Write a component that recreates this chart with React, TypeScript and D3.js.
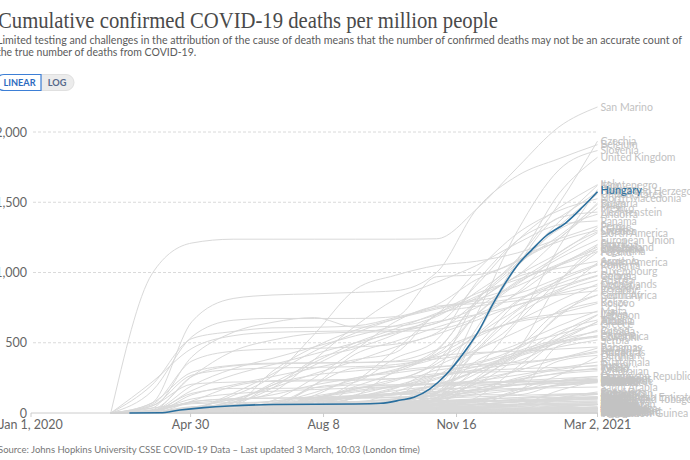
import React from "react";
import * as d3 from "d3";

const DATES = [
  "2020-03-01", "2020-04-01", "2020-05-01", "2020-06-01", "2020-07-01", "2020-08-01", "2020-09-01",
  "2020-10-01", "2020-11-01", "2020-12-01", "2021-01-01", "2021-02-01", "2021-03-02",
];

const COUNTRIES = [
  "San Marino", "Czechia", "Belgium", "Slovenia", "United Kingdom", "Montenegro", "Bosnia and Herzegovina",
  "North Macedonia", "Bulgaria", "Mexico", "Liechtenstein", "Andorra", "Panama", "Peru", "North America",
  "European Union", "Switzerland", "Spain", "Italy", "Portugal", "United States", "Sweden", "France",
  "Brazil", "South America", "Romania", "Luxembourg", "Croatia", "Armenia", "Austria", "Netherlands",
  "Ireland", "Lithuania", "Poland", "Slovakia", "Colombia", "Argentina", "Chile", "Moldova", "Georgia",
  "Bolivia", "Ecuador", "Belize", "Malta", "Lebanon", "Tunisia", "Greece", "Germany", "Russia",
  "Costa Rica", "Israel", "South Africa", "Iran", "Canada", "Ukraine", "Serbia", "Paraguay", "Bahamas",
  "Jordan", "Honduras", "Guatemala", "Iraq", "Turkey", "Oman", "World", "Dominican Republic",
  "Azerbaijan", "Kuwait", "Morocco", "Belarus", "Saudi Arabia", "Kazakhstan", "Estonia", "Denmark",
  "Finland", "Norway", "India", "Indonesia", "Philippines", "Egypt", "Asia", "Africa", "Pakistan",
  "Japan", "Algeria", "Cuba", "Australia", "South Korea", "Uzbekistan", "China", "Nigeria",
  "Latvia", "Albania", "Kosovo", "Cyprus", "Uruguay", "El Salvador", "Jamaica", "Trinidad and Tobago",
  "Qatar", "Bahrain", "United Arab Emirates", "Libya", "Cape Verde", "Eswatini", "Namibia", "Botswana",
  "Zimbabwe", "Zambia", "Kenya", "Ethiopia", "Ghana", "Senegal", "Cameroon", "Venezuela", "Haiti",
  "Nicaragua", "Guyana", "Suriname", "Syria", "Yemen", "Afghanistan", "Kyrgyzstan", "Sri Lanka",
  "Bangladesh", "Nepal", "Myanmar", "Malaysia", "Thailand", "Vietnam", "New Zealand", "Singapore",
  "Iceland", "Mongolia", "Uganda", "Mozambique", "Malawi", "Madagascar", "Somalia", "Sudan",
  "Mauritania", "Gabon", "Djibouti", "Tajikistan", "Rwanda", "Papua New Guinea",
];

const DEATHS = [
  [0, 990, 1210, 1237, 1237, 1237, 1237, 1237, 1240, 1450, 1750, 2036, 2178],
  [0, 3, 22, 30, 33, 36, 40, 58, 290, 800, 1100, 1490, 1935],
  [0, 72, 650, 815, 840, 848, 858, 870, 1000, 1450, 1690, 1810, 1910],
  [0, 7, 45, 52, 53, 56, 63, 77, 190, 700, 1300, 1730, 1868],
  [0, 35, 400, 574, 646, 679, 611, 618, 687, 861, 1091, 1561, 1820],
  [0, 3, 13, 14, 14, 90, 190, 290, 440, 800, 1070, 1360, 1620],
  [0, 2, 15, 50, 55, 180, 220, 390, 520, 930, 1230, 1390, 1575],
  [0, 4, 36, 70, 180, 380, 460, 560, 700, 1010, 1280, 1440, 1525],
  [0, 1, 7, 19, 26, 50, 118, 130, 210, 600, 1050, 1240, 1495],
  [0, 0, 13, 73, 215, 360, 500, 600, 710, 830, 980, 1240, 1459],
  [0, 0, 26, 26, 26, 26, 26, 26, 105, 550, 1050, 1390, 1430],
  [0, 156, 543, 660, 673, 673, 673, 686, 970, 984, 1087, 1307, 1415],
  [0, 2, 30, 80, 150, 380, 620, 810, 930, 1050, 1210, 1340, 1367],
  [0, 1, 28, 124, 265, 560, 880, 980, 1050, 1080, 1140, 1240, 1331],
  [0, 12, 160, 270, 345, 420, 500, 570, 640, 750, 940, 1120, 1281],
  [0, 50, 270, 310, 320, 325, 330, 345, 420, 700, 920, 1100, 1231],
  [0, 50, 205, 220, 225, 228, 232, 245, 370, 700, 930, 1060, 1181],
  [0, 200, 530, 580, 606, 610, 620, 680, 770, 950, 1080, 1260, 1485],
  [0, 220, 460, 550, 574, 580, 585, 593, 640, 910, 1230, 1460, 1625],
  [0, 18, 100, 137, 155, 167, 178, 190, 240, 440, 670, 1180, 1590],
  [0, 16, 195, 315, 390, 470, 550, 620, 700, 820, 1050, 1330, 1560],
  [0, 24, 260, 440, 520, 565, 575, 580, 595, 680, 860, 1140, 1290],
  [0, 60, 370, 440, 455, 460, 470, 490, 570, 790, 980, 1140, 1320],
  [0, 1, 28, 140, 280, 440, 570, 670, 750, 810, 905, 1050, 1200],
  [0, 1, 20, 90, 200, 340, 480, 580, 650, 700, 770, 870, 1070],
  [0, 4, 30, 60, 85, 120, 170, 230, 350, 560, 800, 940, 1053],
  [0, 14, 140, 175, 175, 180, 200, 200, 265, 480, 790, 920, 1010],
  [0, 1, 20, 25, 26, 30, 45, 75, 150, 560, 1070, 1220, 1300],
  [0, 1, 10, 50, 200, 270, 300, 330, 450, 780, 970, 1030, 1080],
  [0, 18, 66, 74, 78, 80, 82, 90, 140, 440, 700, 860, 946],
  [0, 70, 290, 340, 355, 357, 360, 370, 450, 560, 660, 800, 918],
  [0, 15, 260, 335, 350, 355, 358, 365, 385, 420, 460, 690, 890],
  [0, 3, 15, 25, 29, 30, 31, 40, 110, 320, 650, 940, 1170],
  [0, 1, 17, 28, 36, 43, 53, 70, 180, 540, 740, 950, 1145],
  [0, 0, 4, 5, 5, 5, 6, 10, 60, 230, 450, 930, 1195],
  [0, 0, 5, 13, 60, 200, 420, 510, 610, 700, 850, 1050, 1165],
  [0, 0, 5, 11, 28, 80, 225, 450, 700, 850, 950, 1050, 1150],
  [0, 0, 15, 55, 300, 470, 590, 670, 740, 800, 850, 960, 1060],
  [0, 1, 40, 100, 180, 280, 370, 470, 560, 660, 770, 850, 905],
  [0, 0, 1, 3, 4, 4, 5, 30, 135, 450, 730, 880, 975],
  [0, 0, 5, 20, 90, 250, 450, 650, 760, 780, 820, 900, 980],
  [0, 3, 130, 200, 260, 320, 380, 430, 700, 760, 800, 840, 870],
  [0, 0, 5, 5, 5, 5, 15, 100, 330, 450, 580, 720, 790],
  [0, 0, 5, 18, 20, 20, 35, 80, 140, 370, 490, 620, 726],
  [0, 3, 4, 4, 5, 10, 40, 85, 150, 240, 310, 530, 697],
  [0, 0, 3, 4, 4, 4, 5, 40, 140, 280, 410, 580, 662],
  [0, 5, 14, 17, 18, 20, 26, 40, 68, 250, 470, 560, 633],
  [0, 11, 80, 102, 107, 110, 112, 114, 124, 210, 400, 700, 840],
  [0, 0, 7, 33, 62, 95, 120, 140, 205, 300, 410, 500, 590],
  [0, 1, 1, 2, 3, 30, 110, 180, 270, 350, 430, 510, 548],
  [0, 2, 24, 32, 36, 56, 105, 175, 305, 330, 370, 510, 650],
  [0, 0, 2, 12, 40, 125, 250, 285, 325, 360, 470, 730, 840],
  [0, 35, 72, 92, 130, 200, 250, 310, 410, 560, 650, 690, 720],
  [0, 3, 85, 190, 230, 235, 240, 245, 270, 330, 420, 520, 580],
  [0, 0, 4, 14, 24, 35, 55, 95, 180, 300, 420, 500, 550],
  [0, 2, 25, 34, 45, 82, 105, 110, 125, 240, 400, 470, 520],
  [0, 0, 1, 2, 3, 10, 60, 150, 250, 310, 350, 390, 462],
  [0, 1, 25, 28, 28, 40, 120, 300, 400, 430, 440, 455, 470],
  [0, 0, 1, 1, 1, 1, 1, 5, 95, 210, 300, 385, 440],
  [0, 1, 9, 25, 70, 145, 240, 300, 330, 345, 360, 390, 430],
  [0, 0, 1, 4, 40, 110, 160, 190, 210, 230, 270, 320, 363],
  [0, 1, 2, 4, 40, 105, 170, 240, 280, 300, 315, 325, 335],
  [0, 2, 37, 55, 62, 69, 77, 100, 130, 170, 250, 310, 340],
  [0, 0, 1, 2, 15, 60, 130, 195, 270, 290, 295, 300, 310],
  [0, 6, 30, 48, 65, 85, 108, 130, 155, 190, 235, 285, 320],
  [0, 2, 25, 45, 70, 110, 150, 185, 205, 215, 230, 245, 260],
  [0, 0, 2, 4, 15, 45, 60, 65, 90, 170, 240, 280, 300],
  [0, 0, 5, 45, 85, 110, 125, 140, 195, 210, 220, 225, 235],
  [0, 1, 5, 6, 6, 10, 35, 70, 110, 160, 200, 225, 240],
  [0, 0, 8, 25, 40, 60, 70, 80, 95, 130, 165, 195, 215],
  [0, 0, 5, 12, 50, 100, 120, 130, 140, 165, 175, 180, 185],
  [0, 0, 1, 1, 10, 55, 80, 100, 105, 115, 125, 135, 140],
  [0, 1, 40, 48, 52, 52, 52, 52, 55, 80, 165, 270, 400],
  [0, 15, 80, 100, 105, 106, 107, 110, 125, 150, 220, 370, 410],
  [0, 2, 40, 57, 59, 59, 60, 62, 65, 75, 100, 125, 132],
  [0, 2, 38, 43, 45, 47, 48, 50, 52, 62, 80, 105, 115],
  [0, 0, 1, 4, 12, 26, 47, 71, 88, 100, 107, 112, 114],
  [0, 1, 3, 6, 10, 19, 28, 39, 52, 63, 80, 110, 132],
  [0, 1, 6, 9, 11, 20, 30, 45, 68, 79, 87, 100, 115],
  [0, 0, 4, 10, 27, 45, 51, 55, 60, 65, 78, 90, 105],
  [0, 3, 6, 10, 18, 30, 45, 60, 72, 84, 95, 103, 110],
  [0, 0, 2, 4, 9, 20, 32, 38, 42, 47, 57, 70, 76],
  [0, 0, 3, 7, 22, 28, 28, 29, 32, 40, 47, 54, 61],
  [0, 1, 4, 7, 8, 8, 10, 13, 14, 17, 27, 45, 61],
  [0, 1, 10, 15, 20, 28, 37, 41, 44, 50, 61, 64, 65],
  [0, 0, 5, 7, 8, 8, 8, 11, 11, 12, 13, 17, 30],
  [0, 0, 3, 4, 4, 6, 27, 35, 35, 35, 35, 35, 35],
  [0, 0, 3, 5, 5, 6, 6, 8, 9, 10, 18, 27, 31],
  [0, 0, 0, 0, 1, 3, 13, 17, 18, 18, 18, 18, 18],
  [0, 2, 2, 3, 3, 3, 3, 3, 3, 3, 3, 3, 3],
  [0, 0, 0, 1, 3, 4, 5, 5, 5, 6, 6, 7, 9],
  [0, 0, 6, 12, 16, 16, 17, 19, 40, 110, 330, 560, 700],
  [0, 6, 11, 12, 20, 55, 105, 135, 200, 300, 440, 530, 650],
  [0, 1, 15, 16, 40, 200, 320, 330, 390, 540, 660, 710, 780],
  [0, 8, 17, 20, 21, 22, 23, 25, 30, 60, 150, 230, 260],
  [0, 0, 5, 6, 7, 10, 12, 14, 20, 40, 60, 160, 230],
  [0, 0, 2, 6, 20, 80, 120, 140, 150, 165, 200, 230, 250],
  [0, 1, 3, 3, 4, 4, 10, 40, 80, 95, 110, 130, 140],
  [0, 4, 6, 6, 6, 6, 10, 65, 85, 90, 90, 95, 100],
  [0, 0, 4, 15, 40, 60, 70, 76, 80, 82, 85, 93, 100],
  [0, 3, 5, 11, 40, 90, 120, 160, 190, 200, 205, 215, 225],
  [0, 1, 10, 28, 32, 33, 39, 42, 50, 58, 65, 90, 110],
  [0, 0, 0, 0, 1, 10, 20, 50, 100, 140, 220, 230, 240],
  [0, 2, 4, 14, 40, 70, 120, 140, 170, 180, 200, 210, 225],
  [0, 0, 1, 2, 5, 10, 50, 80, 85, 100, 150, 480, 540],
  [0, 0, 0, 0, 0, 10, 40, 60, 80, 90, 150, 200, 220],
  [0, 0, 1, 1, 1, 1, 5, 15, 20, 30, 60, 110, 150],
  [0, 0, 0, 0, 1, 3, 15, 15, 16, 18, 25, 90, 100],
  [0, 0, 0, 0, 0, 10, 20, 20, 20, 21, 22, 45, 60],
  [0, 0, 0, 1, 2, 5, 10, 15, 20, 35, 35, 35, 35],
  [0, 0, 0, 0, 0, 1, 4, 9, 12, 14, 16, 18, 20],
  [0, 0, 0, 0, 1, 4, 7, 8, 10, 10, 11, 14, 18],
  [0, 0, 0, 1, 4, 8, 16, 19, 20, 21, 25, 40, 60],
  [0, 0, 0, 1, 2, 5, 15, 15, 16, 17, 17, 18, 20],
  [0, 0, 0, 0, 0, 2, 6, 10, 15, 20, 30, 35, 42],
  [0, 0, 0, 0, 3, 12, 18, 20, 20, 20, 22, 22, 22],
  [0, 0, 0, 0, 10, 20, 20, 22, 23, 24, 25, 26, 26],
  [0, 0, 10, 14, 20, 25, 30, 60, 110, 130, 130, 205, 230],
  [0, 0, 2, 2, 5, 30, 70, 100, 120, 150, 170, 195, 220],
  [0, 0, 0, 0, 0, 0, 2, 3, 6, 12, 20, 25, 30],
  [0, 0, 0, 0, 10, 15, 20, 20, 20, 20, 20, 20, 21],
  [0, 0, 0, 1, 10, 30, 35, 37, 39, 40, 55, 60, 60],
  [0, 0, 0, 1, 3, 15, 180, 200, 210, 220, 225, 228, 230],
  [0, 0, 0, 0, 0, 0, 0, 1, 1, 3, 6, 14, 20],
  [0, 0, 1, 1, 4, 10, 15, 18, 20, 25, 30, 32, 34],
  [0, 0, 0, 0, 0, 1, 2, 6, 20, 35, 45, 70, 70],
  [0, 0, 0, 0, 0, 0, 0, 0, 3, 10, 35, 50, 58],
  [0, 0, 3, 3, 4, 4, 4, 4, 4, 5, 9, 25, 35],
  [0, 0, 1, 1, 1, 1, 1, 1, 1, 1, 1, 1, 1],
  [0, 0, 0, 0, 0, 0, 0, 0, 0, 0, 0, 0, 0.4],
  [0, 0, 4, 4, 4, 4, 4, 5, 5, 5, 5, 5, 5],
  [0, 0, 2, 4, 4, 4, 5, 5, 5, 5, 5, 5, 5],
  [0, 6, 30, 30, 30, 30, 30, 30, 30, 58, 80, 85, 85],
  [0, 0, 0, 0, 0, 0, 0, 0, 0, 0, 1, 1, 2],
  [0, 0, 0, 0, 0, 0, 0, 1, 3, 6, 7, 7, 7],
  [0, 0, 0, 0, 0, 0, 0, 0, 1, 1, 1, 6, 16],
  [0, 0, 0, 0, 0, 0, 0, 0, 1, 1, 1, 33, 45],
  [0, 0, 0, 0, 0, 1, 5, 7, 8, 8, 9, 10, 10],
  [0, 0, 0, 0, 3, 5, 6, 6, 6, 6, 6, 6, 6],
  [0, 0, 0, 0, 5, 10, 12, 12, 12, 13, 15, 30, 37],
  [0, 0, 0, 0, 10, 30, 35, 35, 35, 36, 60, 80, 85],
  [0, 0, 0, 0, 5, 12, 20, 25, 25, 25, 28, 30, 33],
  [0, 0, 0, 10, 40, 55, 58, 60, 60, 61, 61, 62, 62],
  [0, 0, 0, 3, 5, 6, 6, 8, 8, 8, 9, 9, 9],
  [0, 0, 0, 0, 0, 0, 1, 2, 3, 3, 5, 10, 18],
  [0, 0, 0, 0, 0, 0, 0, 0, 0, 0, 0, 1, 1],
];

const HUNGARY_DATES = [
  "2020-03-15", "2020-04-07", "2020-04-22", "2020-05-10", "2020-05-29", "2020-07-01", "2020-08-01",
  "2020-09-01", "2020-09-20", "2020-10-05", "2020-10-15", "2020-10-27", "2020-11-08", "2020-11-23",
  "2020-12-03", "2020-12-13", "2020-12-23", "2021-01-02", "2021-01-12", "2021-01-22", "2021-02-06",
  "2021-02-19", "2021-03-02",
];
const HUNGARY_DEATHS = [
  0, 1.5, 21, 38, 50, 60, 62, 64, 69, 92, 112, 172, 272, 448, 590, 770, 930, 1065, 1165, 1258, 1352,
  1468, 1575,
];

const Y_TICKS = [0, 500, 1000, 1500, 2000];
const X_TICKS = ["2020-01-01", "2020-04-30", "2020-08-08", "2020-11-16", "2021-03-02"];
const X_TICK_LABELS = ["Jan 1, 2020", "Apr 30", "Aug 8", "Nov 16", "Mar 2, 2021"];

const TITLE = "Cumulative confirmed COVID-19 deaths per million people";
const SUBTITLE = [
  "Limited testing and challenges in the attribution of the cause of death means that the number of confirmed deaths may not be an accurate count of",
  "the true number of deaths from COVID-19.",
];
const SOURCE = "Source: Johns Hopkins University CSSE COVID-19 Data – Last updated 3 March, 10:03 (London time)";

const SANS = "Lato, 'Noto Sans', sans-serif";

export default function App() {
  const parse = d3.utcParse("%Y-%m-%d");
  const x = d3
    .scaleUtc()
    .domain([parse("2020-01-01") as Date, parse("2021-03-02") as Date])
    .range([31, 597.5]);
  const y = d3.scaleLinear().domain([0, 2000]).range([413, 132]);
  const line = d3
    .line<[Date, number]>()
    .x((d) => x(d[0]))
    .y((d) => y(d[1]))
    .curve(d3.curveMonotoneX);

  const dates = DATES.map((d) => parse(d) as Date);
  const series = COUNTRIES.map((name, i) => ({
    name,
    points: dates.map((d, j) => [d, DEATHS[i][j]] as [Date, number]),
  }));
  const hungary = HUNGARY_DATES.map((d, j) => [parse(d) as Date, HUNGARY_DEATHS[j]] as [Date, number]);
  const xEnd = x(parse("2021-03-02") as Date);

  return (
    <svg
      width={690}
      height={460}
      style={{ position: "absolute", left: 0, top: 0, background: "#fff" }}
      fontFamily={SANS}
    >
      <text x={-2} y={28} fontFamily="'Liberation Serif', serif" fontSize={22.5} fill="#4a4a4a" textLength={500} lengthAdjust="spacingAndGlyphs">
        {TITLE}
      </text>
      {SUBTITLE.map((s, i) => (
        <text
          key={i}
          x={-3}
          y={44 + i * 12}
          fontSize={10.5}
          fill="#5b5b5b"
          {...(i === 0 ? { textLength: 685, lengthAdjust: "spacingAndGlyphs" } : {})}
        >
          {s}
        </text>
      ))}

      {/* buttons */}
      <path d="M 41 74.5 L 66 74.5 A 8 8 0 0 1 66 90.5 L 41 90.5 Z" fill="#ececec" stroke="#e0e0e0" />
      <path d="M 41 74.5 L 4 74.5 A 8 8 0 0 0 4 90.5 L 41 90.5 Z" fill="#fff" stroke="#3d7fd6" strokeWidth={1.2} />
      <text x={19.5} y={86.3} fontSize={9.2} fontWeight={700} fill="#2d6cc0" textAnchor="middle">LINEAR</text>
      <text x={57} y={86.3} fontSize={9.2} fontWeight={700} fill="#56688a" textAnchor="middle">LOG</text>

      {/* grid */}
      {Y_TICKS.filter((t) => t > 0).map((t) => (
        <line key={t} x1={33} x2={xEnd} y1={y(t)} y2={y(t)} stroke="#dadada" strokeDasharray="3,2" />
      ))}
      {Y_TICKS.map((t) => (
        <text key={t} x={27} y={y(t) + 4.5} fontSize={12.5} fill="#666" textAnchor="end">
          {d3.format(",")(t)}
        </text>
      ))}

      {/* gray lines */}
      <g fill="none" stroke="#d9d9d9" strokeWidth={1}>
        {series.map((s) => (
          <path key={s.name} d={line(s.points) || ""} />
        ))}
      </g>

      {/* x axis */}
      <line x1={31} x2={xEnd} y1={413} y2={413} stroke="#cccccc" />
      {X_TICKS.map((t, i) => {
        const xx = x(parse(t) as Date);
        return (
          <g key={t}>
            <line x1={xx} x2={xx} y1={413} y2={417} stroke="#cccccc" />
            <text x={xx} y={429} fontSize={12.5} fill="#666" textAnchor="middle">
              {X_TICK_LABELS[i]}
            </text>
          </g>
        );
      })}

      {/* labels */}
      <g fontSize={10.5} fill="#c2c2c2">
        {series.map((s) => (
          <text key={s.name} x={600.5} y={y(s.points[s.points.length - 1][1]) + 3.7}>
            {s.name}
          </text>
        ))}
      </g>

      {/* Hungary */}
      <path d={line(hungary) || ""} fill="none" stroke="#2a6f9e" strokeWidth={1.6} />
      <text x={600.5} y={y(HUNGARY_DEATHS[HUNGARY_DEATHS.length - 1]) + 2} fontSize={11} fill="#2a6f9e">
        Hungary
      </text>

      <text x={-2} y={453} fontSize={9.5} fill="#777">
        {SOURCE}
      </text>
    </svg>
  );
}
